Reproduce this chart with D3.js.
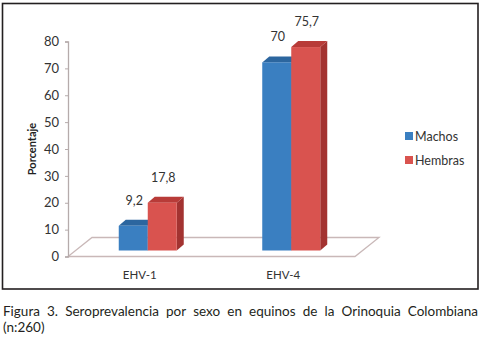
<!DOCTYPE html>
<html><head><meta charset="utf-8">
<script src="https://cdn.jsdelivr.net/npm/d3@7"></script>
<style>html,body{margin:0;padding:0;background:#fff;}svg{display:block;}</style>
</head><body>
<script>
const categories = ["EHV-1", "EHV-4"];
const seriesNames = ["Machos", "Hembras"];
const machos = [9.2, 70];
const hembras = [17.8, 75.7];
const valueLabels = [["9,2", "70"], ["17,8", "75,7"]];
const yTicks = [0, 10, 20, 30, 40, 50, 60, 70, 80];
const captionLine1 = "Figura 3. Seroprevalencia por sexo en equinos de la Orinoquia Colombiana";
const captionLine2 = "(n:260)";

const W = 482, H = 338;
const svg = d3.select("body").append("svg").attr("width", W).attr("height", H);
const font = "Lato, 'Open Sans', sans-serif";
const colors = {
  Machos: {front: "#3a7fc1", top: "#2c669f", side: "#2a5f95"},
  Hembras: {front: "#d9534f", top: "#b83b38", side: "#a33331"}
};

// frame
svg.append("rect").attr("x", 2.5).attr("y", 3.5).attr("width", 475.5).attr("height", 285.5)
  .attr("fill", "#fff").attr("stroke", "#231f20").attr("stroke-width", 1.6);

const y = d3.scaleLinear().domain([0, 80]).range([256.5, 41.5]);
const x0 = d3.scaleBand().domain(categories).range([68, 355]);
const x1 = d3.scaleBand().domain(seriesNames).range([-29, 29]);
const floorD = {dx: 24, dy: -19};
const barShift = {dx: 8, dy: -6};
const barDepth = {dx: 7, dy: -6};

// floor
const fl = [[68, y(0)], [355, y(0)], [355 + floorD.dx, y(0) + floorD.dy], [68 + floorD.dx, y(0) + floorD.dy]];
svg.append("path").attr("d", d3.line()(fl) + "Z").attr("fill", "none")
  .attr("stroke", "#c9b8b8").attr("stroke-width", 1.3);

// y axis
const axis = svg.append("g").attr("transform", "translate(68,0)")
  .call(d3.axisLeft(y).tickValues(yTicks).tickSize(3).tickPadding(6));
axis.select(".domain").attr("stroke", "#b5abab").attr("stroke-width", 1.3);
axis.selectAll(".tick line").attr("stroke", "#b5abab");
axis.selectAll(".tick text").attr("fill", "#333").style("font-family", font).style("font-size", "13px");

svg.append("text").attr("transform", "translate(36,149) rotate(-90)")
  .attr("text-anchor", "middle").style("font-family", font).style("font-size", "11px")
  .style("font-weight", "bold").attr("fill", "#222").text("Porcentaje");

// category labels
svg.selectAll(".cat").data(categories).enter().append("text")
  .attr("x", d => x0(d) + x0.bandwidth() / 2).attr("y", 278.5)
  .attr("text-anchor", "middle").style("font-family", font).style("font-size", "11.5px")
  .attr("fill", "#333").text(d => d);

// bars
const data = [];
categories.forEach((c, i) => {
  data.push({cat: c, s: "Machos", v: machos[i], label: valueLabels[0][i]});
  data.push({cat: c, s: "Hembras", v: hembras[i], label: valueLabels[1][i]});
});
const g = svg.append("g");
data.forEach(d => {
  const xl = x0(d.cat) + x0.bandwidth() / 2 + barShift.dx + x1(d.s);
  const xr = xl + x1.bandwidth();
  const yb = y(0) + barShift.dy;
  const yt = y(d.v) + barShift.dy;
  const c = colors[d.s];
  g.append("path").attr("d", d3.line()([[xr, yt], [xr + barDepth.dx, yt + barDepth.dy], [xr + barDepth.dx, yb + barDepth.dy], [xr, yb]]) + "Z").attr("fill", c.side);
  g.append("path").attr("d", d3.line()([[xl, yt], [xl + barDepth.dx, yt + barDepth.dy], [xr + barDepth.dx, yt + barDepth.dy], [xr, yt]]) + "Z").attr("fill", c.top);
  g.append("rect").attr("x", xl).attr("y", yt).attr("width", xr - xl).attr("height", yb - yt).attr("fill", c.front);
  g.append("text").attr("x", (xl + xr) / 2 + 1).attr("y", yt - 21)
    .attr("text-anchor", "middle").style("font-family", font).style("font-size", "12.5px")
    .attr("fill", "#333").text(d.label);
});

// legend
const lg = svg.append("g");
seriesNames.forEach((s, i) => {
  const cy = 136 + i * 24;
  lg.append("rect").attr("x", 405).attr("y", cy - 4).attr("width", 8).attr("height", 8).attr("fill", colors[s].front);
  lg.append("text").attr("x", 415).attr("y", cy + 4.5).style("font-family", font).style("font-size", "12.5px")
    .attr("fill", "#333").text(s);
});

// caption (justified first line)
const capFont = "Lato, 'Open Sans', sans-serif";
const left = 3, right = 478;
const capSize = 13.5;
const words = captionLine1.split(" ");
const tmp = words.map(w => svg.append("text").style("font-family", capFont).style("font-size", capSize + "px").attr("fill", "#231f20").text(w));
const widths = tmp.map(t => t.node().getComputedTextLength());
const total = d3.sum(widths);
const gap = (right - left - total) / (words.length - 1);
let cx = left;
tmp.forEach((t, i) => { t.attr("x", cx).attr("y", 315.5); cx += widths[i] + gap; });
svg.append("text").attr("x", left).attr("y", 332).style("font-family", capFont).style("font-size", capSize + "px")
  .attr("fill", "#231f20").text(captionLine2);
</script>
</body></html>
